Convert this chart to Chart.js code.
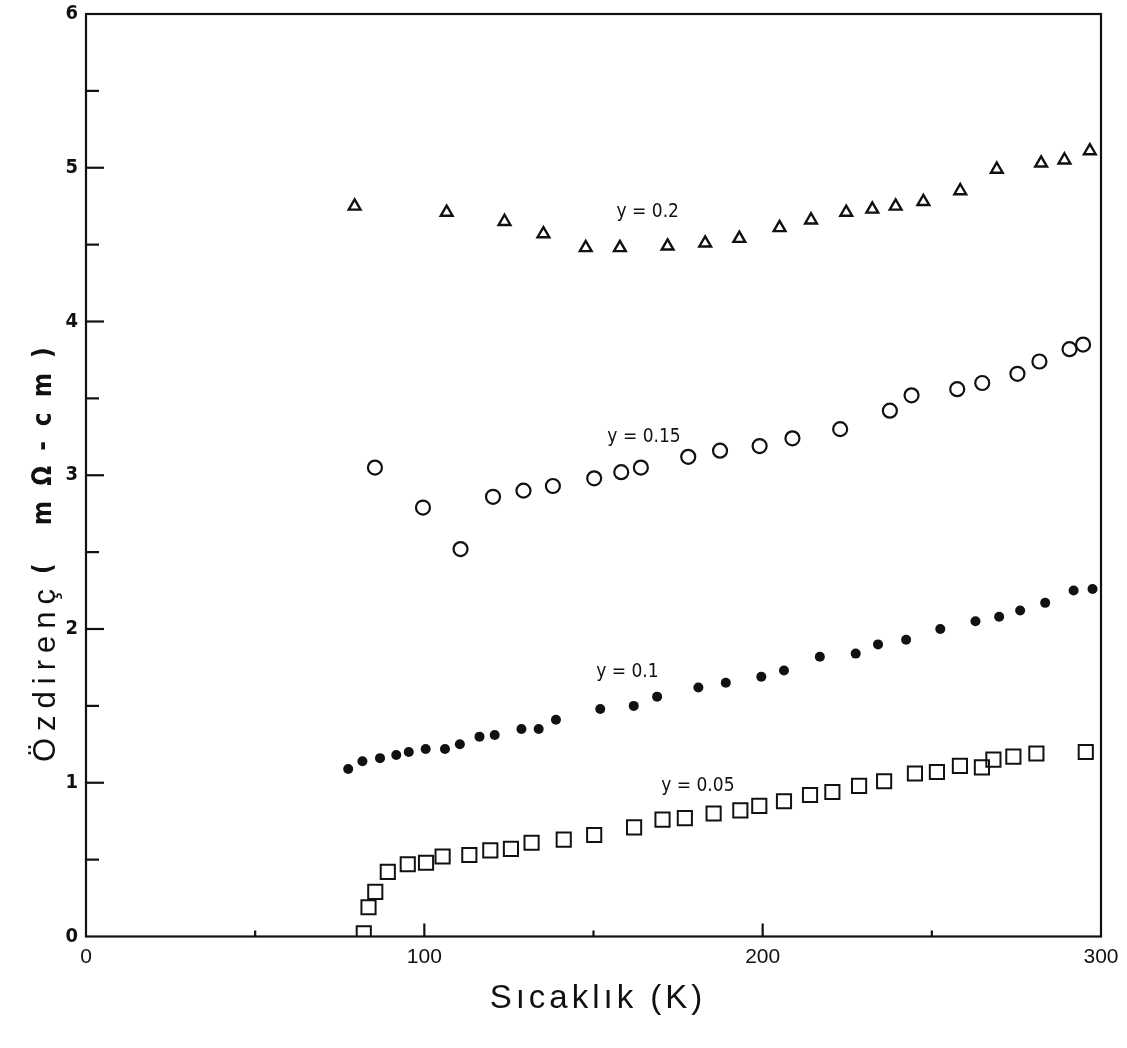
<!DOCTYPE html>
<html>
<head>
<meta charset="utf-8">
<script src="https://cdn.jsdelivr.net/npm/chart.js@4.4.1/dist/chart.umd.min.js"></script>
<style>
  html, body { margin: 0; padding: 0; background: #fff; }
</style>
</head>
<body>
<canvas id="resChart" width="1127" height="1048"></canvas>
<script>
// y = 0.2 (open triangles)
const t02 = [79.4, 106.6, 123.7, 135.2, 147.7, 157.8, 171.9, 183.0, 193.1, 205.0, 214.3, 224.7, 232.4, 239.3, 247.5, 258.4, 269.2, 282.3, 289.2, 296.7];
const r02 = [4.75, 4.71, 4.65, 4.57, 4.48, 4.48, 4.49, 4.51, 4.54, 4.61, 4.66, 4.71, 4.73, 4.75, 4.78, 4.85, 4.99, 5.03, 5.05, 5.11];

// y = 0.15 (open circles)
const t015 = [85.4, 99.6, 110.7, 120.3, 129.3, 138.0, 150.2, 158.2, 164.0, 178.0, 187.4, 199.1, 208.8, 222.9, 237.6, 244.0, 257.5, 264.9, 275.3, 281.8, 290.7, 294.7];
const r015 = [3.05, 2.79, 2.52, 2.86, 2.90, 2.93, 2.98, 3.02, 3.05, 3.12, 3.16, 3.19, 3.24, 3.30, 3.42, 3.52, 3.56, 3.60, 3.66, 3.74, 3.82, 3.85];

// y = 0.1 (filled dots)
const t01 = [77.5, 81.7, 86.9, 91.7, 95.4, 100.4, 106.1, 110.5, 116.3, 120.8, 128.7, 133.8, 138.9, 152.0, 161.9, 168.8, 181.0, 189.1, 199.6, 206.3, 216.9, 227.5, 234.1, 242.4, 252.5, 262.9, 269.9, 276.1, 283.5, 291.9, 297.5];
const r01 = [1.09, 1.14, 1.16, 1.18, 1.20, 1.22, 1.22, 1.25, 1.30, 1.31, 1.35, 1.35, 1.41, 1.48, 1.50, 1.56, 1.62, 1.65, 1.69, 1.73, 1.82, 1.84, 1.90, 1.93, 2.00, 2.05, 2.08, 2.12, 2.17, 2.25, 2.26];

// y = 0.05 (open squares)
const t005 = [82.1, 83.5, 85.5, 89.2, 95.1, 100.5, 105.4, 113.3, 119.5, 125.6, 131.7, 141.2, 150.2, 162.0, 170.4, 177.0, 185.5, 193.4, 199.0, 206.3, 214.0, 220.6, 228.5, 235.9, 245.0, 251.5, 258.3, 264.8, 268.2, 274.1, 280.9, 295.5];
const r005 = [0.02, 0.19, 0.29, 0.42, 0.47, 0.48, 0.52, 0.53, 0.56, 0.57, 0.61, 0.63, 0.66, 0.71, 0.76, 0.77, 0.80, 0.82, 0.85, 0.88, 0.92, 0.94, 0.98, 1.01, 1.06, 1.07, 1.11, 1.10, 1.15, 1.17, 1.19, 1.20];

const xTickLabels = [0, 100, 200, 300];
const yTickLabels = [0, 1, 2, 3, 4, 5, 6];

// text next to each curve, anchored in data units
const seriesLabels = [
    { text: "y = 0.2", x: 156.8, y: 4.71 },
    { text: "y = 0.15", x: 154.1, y: 3.25 },
    { text: "y = 0.1", x: 150.8, y: 1.72 },
    { text: "y = 0.05", x: 170.0, y: 0.98 }
];

const pts = (xs, ys) => xs.map((x, i) => ({ x: x, y: ys[i] }));

const ink = "#111";

const framePlugin = {
    id: "frame",
    afterDraw(chart) {
        const c = chart.ctx;
        const a = chart.chartArea;
        const xs = chart.scales.x;
        const ys = chart.scales.y;
        c.save();
        c.strokeStyle = ink;
        c.lineWidth = 2.2;
        c.strokeRect(a.left, a.top, a.right - a.left, a.bottom - a.top);

        // inward ticks on the left axis
        for (let v = 0.5; v < 6; v += 0.5) {
            const py = ys.getPixelForValue(v);
            const len = Number.isInteger(v) ? 18 : 13;
            c.beginPath();
            c.moveTo(a.left, py);
            c.lineTo(a.left + len, py);
            c.stroke();
        }
        // inward ticks on the bottom axis
        for (let v = 50; v < 300; v += 50) {
            const px = xs.getPixelForValue(v);
            const len = v % 100 === 0 ? 13 : 6;
            c.beginPath();
            c.moveTo(px, a.bottom);
            c.lineTo(px, a.bottom - len);
            c.stroke();
        }

        // curve labels
        c.fillStyle = ink;
        c.font = "19px 'DejaVu Sans Condensed', 'DejaVu Sans', sans-serif";
        c.textBaseline = "middle";
        c.textAlign = "left";
        seriesLabels.forEach(l => {
            c.fillText(l.text, xs.getPixelForValue(l.x), ys.getPixelForValue(l.y));
        });

        // x axis title
        c.font = "33px 'Liberation Sans', Arial, sans-serif";
        c.textAlign = "center";
        c.letterSpacing = "4px";
        c.fillText("Sıcaklık (K)", 598, 999);

        // y axis title, rotated
        c.translate(46, 762);
        c.rotate(-Math.PI / 2);
        c.textAlign = "left";
        c.letterSpacing = "7px";
        c.font = "31px 'Liberation Sans', Arial, sans-serif";
        c.fillText("Özdirenç", 0, 0);
        const w = c.measureText("Özdirenç").width;
        c.font = "bold 26px 'DejaVu Sans Condensed', 'DejaVu Sans', sans-serif";
        c.letterSpacing = "15px";
        c.fillText("( mΩ-cm)", w + 8, -2);
        c.restore();
    }
};

new Chart(document.getElementById("resChart"), {
    type: "scatter",
    data: {
        datasets: [
            {
                label: "y = 0.2",
                data: pts(t02, r02),
                pointStyle: "triangle",
                pointRadius: 6.8,
                borderWidth: 2.4,
                borderColor: ink,
                backgroundColor: "#fff"
            },
            {
                label: "y = 0.15",
                data: pts(t015, r015),
                pointStyle: "circle",
                pointRadius: 7,
                borderWidth: 2.2,
                borderColor: ink,
                backgroundColor: "rgba(255,255,255,0)"
            },
            {
                label: "y = 0.1",
                data: pts(t01, r01),
                pointStyle: "circle",
                pointRadius: 5,
                borderWidth: 0,
                borderColor: ink,
                backgroundColor: ink
            },
            {
                label: "y = 0.05",
                data: pts(t005, r005),
                pointStyle: "rect",
                pointRadius: 10,
                borderWidth: 2,
                borderColor: ink,
                backgroundColor: "rgba(255,255,255,0)",
                clip: 0
            }
        ]
    },
    plugins: [framePlugin],
    options: {
        responsive: false,
        animation: false,
        events: [],
        layout: {
            padding: { top: 7, right: 26, left: 0, bottom: 0 }
        },
        plugins: {
            legend: { display: false },
            tooltip: { enabled: false }
        },
        scales: {
            x: {
                type: "linear",
                min: 0,
                max: 300,
                afterFit: s => { s.height = 111.5; },
                afterBuildTicks: s => { s.ticks = xTickLabels.map(v => ({ value: v })); },
                grid: { display: false, drawTicks: false },
                border: { display: false },
                ticks: {
                    color: ink,
                    padding: 8,
                    maxRotation: 0,
                    font: { family: "'Liberation Sans', Arial, sans-serif", size: 21 }
                }
            },
            y: {
                type: "linear",
                min: 0,
                max: 6,
                afterFit: s => { s.width = 86; },
                afterBuildTicks: s => { s.ticks = yTickLabels.map(v => ({ value: v })); },
                grid: { display: false, drawTicks: false },
                border: { display: false },
                ticks: {
                    color: ink,
                    padding: 8,
                    font: { family: "'DejaVu Sans Condensed', 'DejaVu Sans', sans-serif", size: 20, weight: "bold", lineHeight: 0.6 }
                }
            }
        }
    }
});
</script>
</body>
</html>
